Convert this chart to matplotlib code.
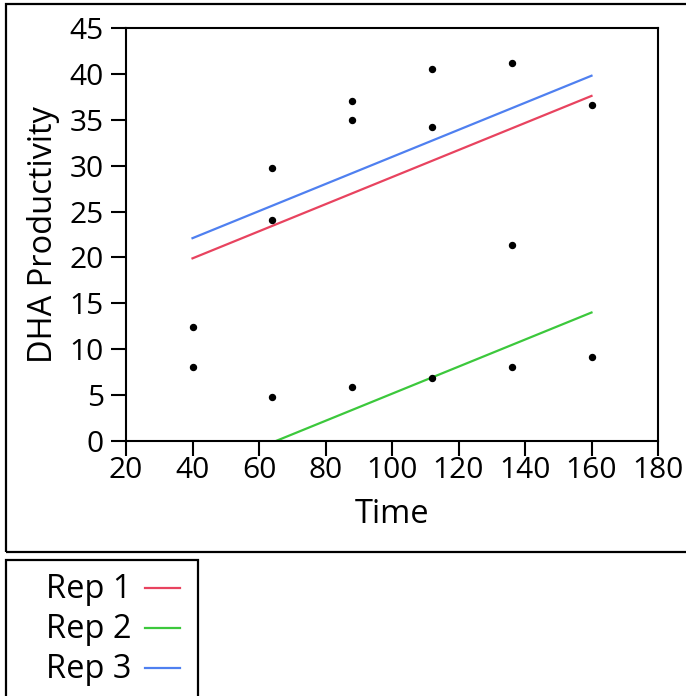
import numpy as np
import matplotlib.pyplot as plt
from matplotlib.patches import Rectangle
from matplotlib.lines import Line2D

plt.rcParams['font.family'] = ['Open Sans', 'DejaVu Sans']

# observed points (time, DHA productivity)
time = [40, 40, 64, 64, 64, 88, 88, 88, 112, 112, 112, 136, 136, 136, 160, 160]
dha = [12.4, 8.1, 29.8, 24.1, 4.8, 37.1, 35.0, 5.9, 40.5, 34.2, 6.9, 41.2, 21.4, 8.1, 36.6, 9.2]

# fitted lines per replicate, value at start / end of time range
reps = ['Rep 1', 'Rep 2', 'Rep 3']
rep_colors = ['#E8435F', '#3CC83C', '#4F80F0']
fit_x = [40, 160]
fit_start = [19.9, -3.7, 22.1]
fit_end = [37.6, 14.0, 39.8]

FS_TICK = 21.5
FS = 23.5
W, H = 686, 696
fig = plt.figure(figsize=(W / 100, H / 100), dpi=100)
ax = fig.add_axes([126 / W, 1 - 441 / H, (658 - 126) / W, (441 - 28) / H])

for name, c, y0, y1 in zip(reps, rep_colors, fit_start, fit_end):
    ax.plot(fit_x, [y0, y1], color=c, lw=1.6, label=name)
ax.plot(time, dha, 'o', color='black', ms=4.3, zorder=3, clip_on=False)

ax.set_xlim(20, 180)
ax.set_ylim(0, 45)
ax.set_xticks(np.arange(20, 181, 20))
ax.set_yticks(np.arange(0, 46, 5))
for s in ax.spines.values():
    s.set_linewidth(1.5)
ax.tick_params(direction='out', length=11, width=1.5, labelsize=FS_TICK)
ax.tick_params(axis='y', pad=5)
ax.tick_params(axis='x', pad=0)
ax.set_xlabel('Time', fontsize=FS, labelpad=9)
ax.set_ylabel('DHA Productivity', fontsize=FS, labelpad=7)

# outer frame around the plot
fig.patches.append(Rectangle((6 / W, 1 - 552 / H), 700 / W, 548 / H, transform=fig.transFigure,
                             fill=False, lw=1.6, ec='black'))
# legend box
fig.patches.append(Rectangle((6 / W, -0.02), 192 / W, 1 - 560 / H + 0.02, transform=fig.transFigure,
                             fill=False, lw=1.6, ec='black'))
for i, (name, c) in enumerate(zip(reps, rep_colors)):
    yy = 1 - (590 + 40 * i) / H
    fig.text(131 / W, yy, name, ha='right', va='center', fontsize=FS)
    fig.add_artist(Line2D([145 / W, 180 / W], [yy + 0.003, yy + 0.003], color=c, lw=1.6,
                          transform=fig.transFigure))

fig.savefig('out.png', dpi=100)
